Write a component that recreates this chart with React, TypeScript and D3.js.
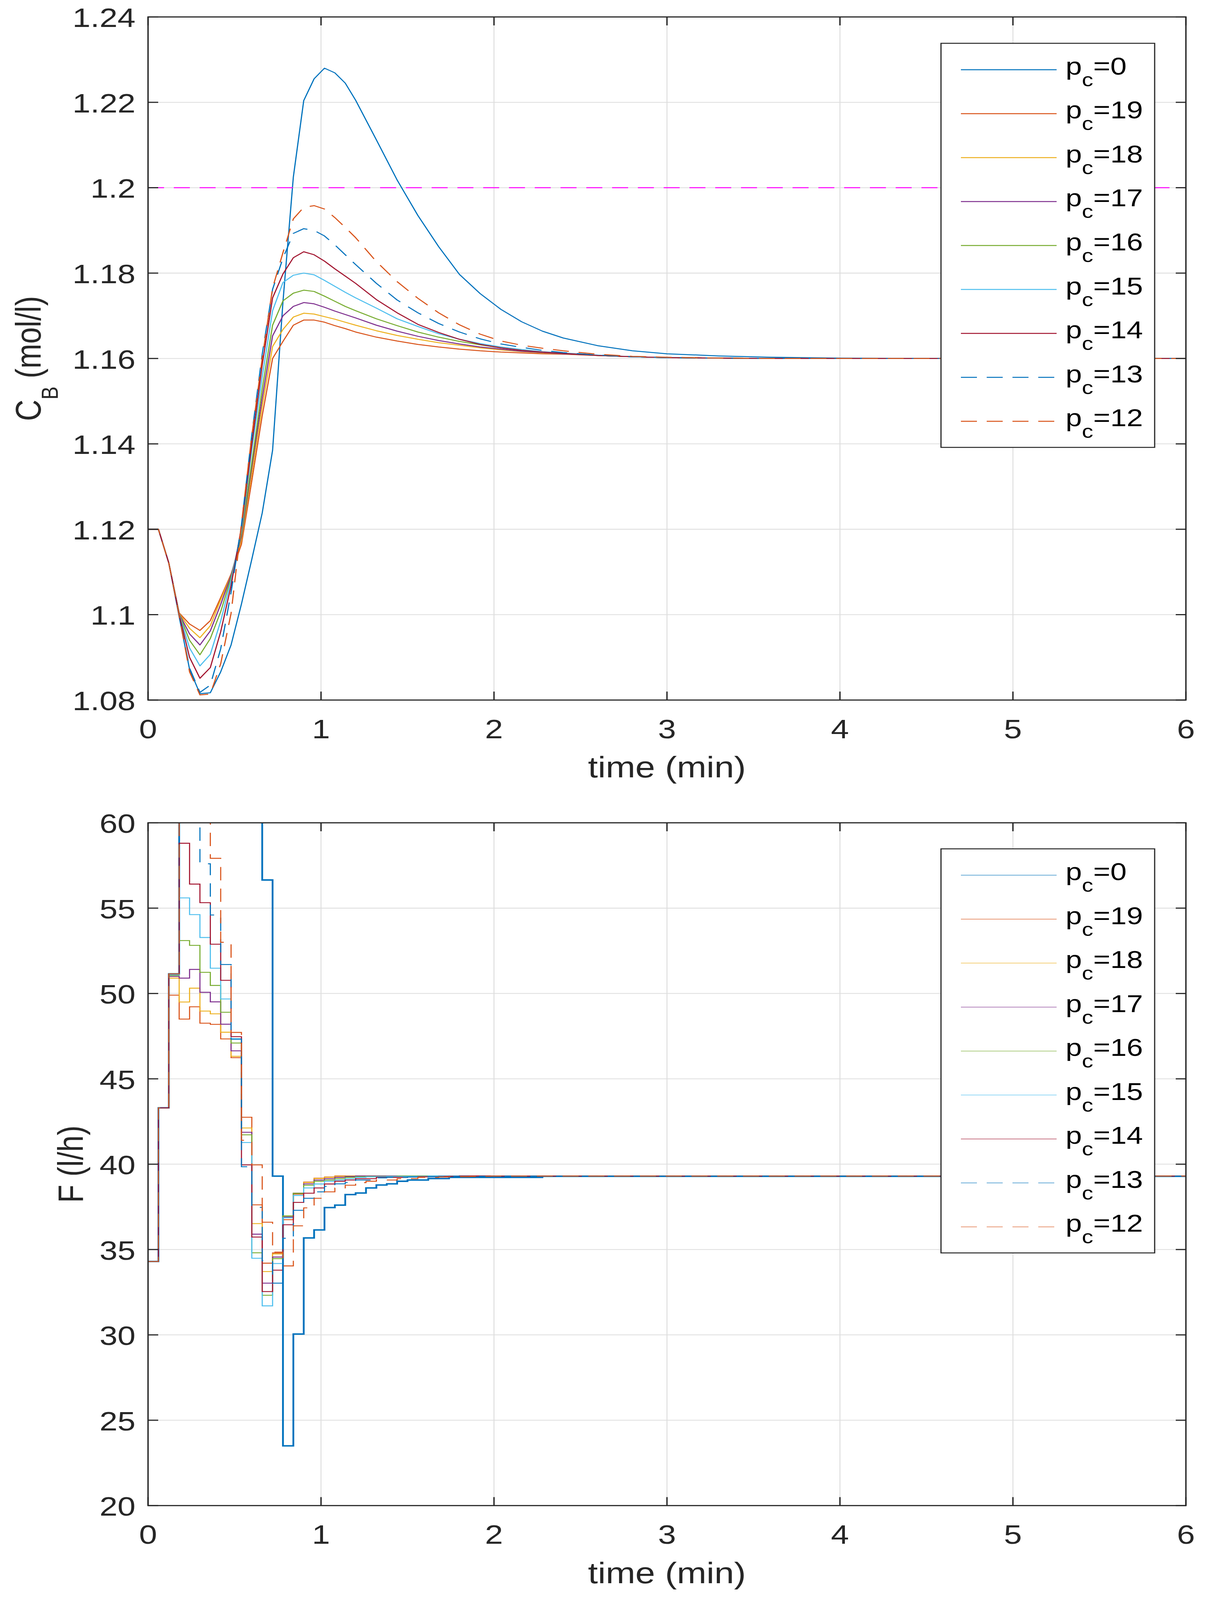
import React from 'react';
import * as d3 from 'd3';

if (typeof document !== 'undefined') {
  document.body.style.margin = '0';
  document.body.style.padding = '0';
  document.body.style.overflow = 'hidden';
}

const W = 3090;
const H = 4914;
const FONT = '"Liberation Sans", Arial, Helvetica, sans-serif';
const INK = '#262626';
const GRID = '#dedede';

// ---------- series meta ----------
const pcLabels = ['0', '19', '18', '17', '16', '15', '14', '13', '12'];
const pcColors = ['#0072BD', '#D95319', '#EDB120', '#7E2F8E', '#77AC30', '#4DBEEE', '#A2142F', '#0072BD', '#D95319'];
const pcDashed = [false, false, false, false, false, false, false, true, true];

// ---------- top plot: C_B (mol/l) ----------
const timeCB = [0, 0.06, 0.12, 0.18, 0.24, 0.3, 0.36, 0.42, 0.48, 0.54, 0.6, 0.66, 0.72, 0.78, 0.84, 0.9, 0.96, 1.02, 1.08, 1.14, 1.2,
  1.32, 1.44, 1.56, 1.68, 1.8, 1.92, 2.04, 2.16, 2.28, 2.4, 2.6, 2.8, 3.0, 3.3, 3.6, 4.0, 4.5, 6.0];

const cb0 = [1.12, 1.12, 1.1121, 1.0995, 1.0872, 1.0815, 1.0817, 1.0866, 1.0929, 1.1025, 1.113, 1.1238, 1.1385, 1.1733, 1.2025, 1.2204, 1.2255, 1.228, 1.2269, 1.2245, 1.2205,
  1.2112, 1.2018, 1.1935, 1.1862, 1.1797, 1.1752, 1.1715, 1.1686, 1.1664, 1.1648, 1.163, 1.1618, 1.1611, 1.1606, 1.1603, 1.1601, 1.16, 1.16];
const cb19 = [1.12, 1.12, 1.1121, 1.1004, 1.0978, 1.0963, 1.0986, 1.104, 1.1095, 1.1165, 1.1314, 1.1466, 1.16, 1.164, 1.1678, 1.169, 1.169, 1.1685, 1.1677, 1.167, 1.1662,
  1.165, 1.1641, 1.1633, 1.1627, 1.1622, 1.1618, 1.1615, 1.1613, 1.1611, 1.161, 1.1607, 1.1604, 1.1602, 1.1601, 1.16, 1.16, 1.16, 1.16];
const cb18 = [1.12, 1.12, 1.1121, 1.1003, 1.0968, 1.0946, 1.0974, 1.1035, 1.1093, 1.1175, 1.1332, 1.1488, 1.1628, 1.1668, 1.1697, 1.1706, 1.1704, 1.1698, 1.1692, 1.1685, 1.1678,
  1.1665, 1.1654, 1.1645, 1.1637, 1.1631, 1.1625, 1.162, 1.1616, 1.1613, 1.1611, 1.1607, 1.1604, 1.1602, 1.1601, 1.16, 1.16, 1.16, 1.16];
const cb17 = [1.12, 1.12, 1.1121, 1.1002, 1.0955, 1.0929, 1.0962, 1.1024, 1.1092, 1.1183, 1.1347, 1.1507, 1.1653, 1.17, 1.1722, 1.1731, 1.1728, 1.172, 1.1711, 1.1703, 1.1695,
  1.1678, 1.1664, 1.1652, 1.1642, 1.1634, 1.1627, 1.1622, 1.1617, 1.1614, 1.1611, 1.1607, 1.1604, 1.1602, 1.1601, 1.16, 1.16, 1.16, 1.16];
const cb16 = [1.12, 1.12, 1.1121, 1.1002, 1.094, 1.0906, 1.0944, 1.1007, 1.1087, 1.119, 1.1357, 1.1529, 1.1678, 1.1735, 1.1753, 1.176, 1.1757, 1.1746, 1.1734, 1.1722, 1.1712,
  1.1693, 1.1677, 1.1662, 1.165, 1.164, 1.1632, 1.1625, 1.1619, 1.1615, 1.1612, 1.1607, 1.1604, 1.1602, 1.1601, 1.16, 1.16, 1.16, 1.16];
const cb15 = [1.12, 1.12, 1.1121, 1.1001, 1.0922, 1.088, 1.0907, 1.0985, 1.108, 1.1198, 1.1386, 1.1557, 1.1712, 1.1778, 1.1795, 1.18, 1.1796, 1.1783, 1.1769, 1.1755, 1.1742,
  1.1718, 1.1693, 1.1675, 1.1658, 1.1645, 1.1635, 1.1627, 1.1621, 1.1616, 1.1613, 1.1608, 1.1604, 1.1602, 1.1601, 1.16, 1.16, 1.16, 1.16];
const cb14 = [1.12, 1.12, 1.1121, 1.1, 1.09, 1.0851, 1.0876, 1.096, 1.1068, 1.1205, 1.14, 1.1585, 1.1742, 1.1798, 1.1836, 1.185, 1.1843, 1.1828, 1.181, 1.1793, 1.1776,
  1.1738, 1.1707, 1.168, 1.1661, 1.1645, 1.1633, 1.1625, 1.1619, 1.1615, 1.1612, 1.1607, 1.1604, 1.1602, 1.1601, 1.16, 1.16, 1.16, 1.16];
const cb13 = [1.12, 1.12, 1.1121, 1.0998, 1.0875, 1.0818, 1.0835, 1.092, 1.1052, 1.121, 1.1422, 1.161, 1.1762, 1.1835, 1.1893, 1.1904, 1.19, 1.1887, 1.1866, 1.1843, 1.182,
  1.1776, 1.1737, 1.1707, 1.1682, 1.1662, 1.1646, 1.1634, 1.1626, 1.1619, 1.1614, 1.1608, 1.1604, 1.1602, 1.1601, 1.16, 1.16, 1.16, 1.16];
const cb12 = [1.12, 1.12, 1.1121, 1.0998, 1.0866, 1.0812, 1.0814, 1.0885, 1.1003, 1.1212, 1.142, 1.16, 1.1765, 1.1848, 1.1927, 1.1954, 1.1958, 1.195, 1.193, 1.1907, 1.1883,
  1.1827, 1.178, 1.1741, 1.1707, 1.1679, 1.1657, 1.1641, 1.1631, 1.1624, 1.1618, 1.161, 1.1605, 1.1603, 1.1601, 1.16, 1.16, 1.16, 1.16];
const cbSeries = [cb0, cb19, cb18, cb17, cb16, cb15, cb14, cb13, cb12];
const cbLimit = 1.2;

// ---------- bottom plot: F (l/h), stairs ----------
const timeF = [0, 0.06, 0.12, 0.18, 0.24, 0.3, 0.36, 0.42, 0.48, 0.54, 0.6, 0.66, 0.72, 0.78, 0.84, 0.9, 0.96, 1.02, 1.08, 1.14, 1.2,
  1.26, 1.32, 1.38, 1.44, 1.5, 1.56, 1.62, 1.68, 1.74, 1.8, 1.86, 1.92, 1.98, 2.04, 2.1, 2.16, 2.22, 2.28, 2.34, 2.4, 6.0];

const f0 = [34.3, 43.3, 51.15, 72, 85, 92, 88, 80, 73, 67, 62, 56.65, 39.3, 23.5, 30.05, 35.68, 36.15, 37.46, 37.6, 38.22, 38.31,
  38.61, 38.78, 38.85, 39.0, 39.07, 39.07, 39.16, 39.16, 39.23, 39.23, 39.23, 39.23, 39.23, 39.23, 39.23, 39.23, 39.23, 39.29, 39.29, 39.29, 39.29];
const f19 = [34.3, 43.3, 49.9, 48.5, 49.22, 48.26, 48.19, 47.34, 46.24, 42.75, 37.62, 34.2, 34.8, 36.75, 38.25, 38.95, 39.18, 39.25, 39.31, 39.3, 39.3,
  39.3, 39.3, 39.3, 39.3, 39.3, 39.3, 39.3, 39.3, 39.3, 39.3, 39.3, 39.3, 39.3, 39.3, 39.3, 39.3, 39.3, 39.3, 39.3, 39.3, 39.3];
const f18 = [34.3, 43.3, 50.9, 49.5, 50.31, 48.97, 48.81, 47.73, 46.32, 42.12, 36.52, 33.71, 34.74, 36.9, 38.3, 38.93, 39.16, 39.23, 39.29, 39.31, 39.3,
  39.3, 39.3, 39.3, 39.3, 39.3, 39.3, 39.3, 39.3, 39.3, 39.3, 39.3, 39.3, 39.3, 39.3, 39.3, 39.3, 39.3, 39.3, 39.3, 39.3, 39.3];
const f17 = [34.3, 43.3, 51.0, 50.9, 51.41, 50.07, 49.51, 48.2, 46.64, 41.87, 35.9, 33.03, 34.56, 36.9, 38.3, 38.85, 39.07, 39.15, 39.23, 39.28, 39.31,
  39.31, 39.31, 39.31, 39.3, 39.3, 39.3, 39.3, 39.3, 39.3, 39.3, 39.3, 39.3, 39.3, 39.3, 39.3, 39.3, 39.3, 39.3, 39.3, 39.3, 39.3];
const f16 = [34.3, 43.3, 51.05, 53.1, 52.82, 51.24, 50.47, 48.9, 47.1, 41.72, 34.81, 32.32, 34.47, 36.97, 38.29, 38.77, 39.0, 39.07, 39.15, 39.23, 39.27,
  39.28, 39.29, 39.29, 39.31, 39.31, 39.31, 39.3, 39.3, 39.3, 39.3, 39.3, 39.3, 39.3, 39.3, 39.3, 39.3, 39.3, 39.3, 39.3, 39.3, 39.3];
const f15 = [34.3, 43.3, 51.1, 55.6, 54.62, 53.28, 51.48, 49.68, 47.35, 41.27, 34.49, 31.7, 34.18, 36.86, 38.17, 38.61, 38.84, 39.0, 39.07, 39.15, 39.23,
  39.26, 39.27, 39.28, 39.28, 39.29, 39.29, 39.31, 39.31, 39.31, 39.3, 39.3, 39.3, 39.3, 39.3, 39.3, 39.3, 39.3, 39.3, 39.3, 39.3, 39.3];
const f14 = [34.3, 43.3, 51.15, 58.8, 56.41, 55.32, 52.89, 50.77, 47.47, 39.96, 35.73, 32.54, 33.79, 36.45, 37.76, 38.3, 38.61, 38.84, 39.0, 39.07, 39.15,
  39.15, 39.23, 39.23, 39.23, 39.25, 39.26, 39.27, 39.28, 39.29, 39.31, 39.31, 39.31, 39.3, 39.3, 39.3, 39.3, 39.3, 39.3, 39.3, 39.3, 39.3];
const f13 = [34.3, 43.3, 51.15, 64, 62, 57.6, 54.6, 51.7, 47.32, 39.85, 37.47, 34.34, 33.03, 35.66, 37.3, 38.0, 38.38, 38.7, 38.85, 38.93, 39.07,
  39.07, 39.2, 39.23, 39.23, 39.25, 39.26, 39.27, 39.27, 39.28, 39.28, 39.29, 39.29, 39.3, 39.3, 39.3, 39.3, 39.3, 39.3, 39.3, 39.3, 39.3];
const f12 = [34.3, 43.3, 51.15, 66, 68, 63, 57.92, 53.0, 47.72, 41.4, 39.96, 36.6, 34.85, 34.04, 36.39, 37.44, 38.0, 38.38, 38.61, 38.77, 38.92,
  39.0, 39.07, 39.07, 39.15, 39.15, 39.23, 39.23, 39.25, 39.26, 39.27, 39.28, 39.29, 39.3, 39.3, 39.3, 39.3, 39.3, 39.3, 39.3, 39.3, 39.3];
const fSeries = [f0, f19, f18, f17, f16, f15, f14, f13, f12];

// ---------- ticks ----------
const xTicks = [0, 1, 2, 3, 4, 5, 6];
const cbTicks = [1.08, 1.1, 1.12, 1.14, 1.16, 1.18, 1.2, 1.22, 1.24];
const cbTickLabels = ['1.08', '1.1', '1.12', '1.14', '1.16', '1.18', '1.2', '1.22', '1.24'];
const fTicks = [20, 25, 30, 35, 40, 45, 50, 55, 60];
const fTickLabels = ['20', '25', '30', '35', '40', '45', '50', '55', '60'];

// ---------- layout (reference pixel frame 3090 x 4914) ----------
const LEFT = 379;
const RIGHT = 3036;
const TOP_PLOT = { top: 52, bottom: 2150 };
const BOT_PLOT = { top: 2527, bottom: 4624 };
const TICK_FS = 83;
const LABEL_FS = 91;
const LEGEND_FS = 75;
const DASH = '41 25';

const x = d3.scaleLinear().domain([0, 6]).range([LEFT, RIGHT]);
const yCB = d3.scaleLinear().domain([1.08, 1.24]).range([TOP_PLOT.bottom, TOP_PLOT.top]);
const yF = d3.scaleLinear().domain([20, 60]).range([BOT_PLOT.bottom, BOT_PLOT.top]);

type AxesProps = {
  top: number;
  bottom: number;
  y: d3.ScaleLinear<number, number>;
  yTicks: number[];
  yTickLabels: string[];
};

function Grid({ top, bottom, y, yTicks }: AxesProps) {
  return (
    <g>
      {xTicks.map((t) => (
        <line key={'gx' + t} x1={x(t)} x2={x(t)} y1={top} y2={bottom} stroke={GRID} strokeWidth={2.5} />
      ))}
      {yTicks.map((t) => (
        <line key={'gy' + t} x1={LEFT} x2={RIGHT} y1={y(t)} y2={y(t)} stroke={GRID} strokeWidth={2.5} />
      ))}
    </g>
  );
}

function Frame({ top, bottom, y, yTicks, yTickLabels }: AxesProps) {
  const TL = 26;
  return (
    <g fontFamily={FONT} fill={INK}>
      {xTicks.map((t) => (
        <g key={'tx' + t}>
          <line x1={x(t)} x2={x(t)} y1={bottom} y2={bottom - TL} stroke={INK} strokeWidth={3.5} />
          <line x1={x(t)} x2={x(t)} y1={top} y2={top + TL} stroke={INK} strokeWidth={3.5} />
          <text x={x(t)} y={bottom + 117} fontSize={TICK_FS} textAnchor="middle">{String(t)}</text>
        </g>
      ))}
      {yTicks.map((t, i) => (
        <g key={'ty' + t}>
          <line x1={LEFT} x2={LEFT + TL} y1={y(t)} y2={y(t)} stroke={INK} strokeWidth={3.5} />
          <line x1={RIGHT} x2={RIGHT - TL} y1={y(t)} y2={y(t)} stroke={INK} strokeWidth={3.5} />
          <text x={347} y={y(t) + 31} fontSize={TICK_FS} textAnchor="end">{yTickLabels[i]}</text>
        </g>
      ))}
      <rect x={LEFT} y={top} width={RIGHT - LEFT} height={bottom - top} fill="none" stroke={INK} strokeWidth={3.5} />
      <text x={(LEFT + RIGHT) / 2} y={bottom + 238} fontSize={LABEL_FS} textAnchor="middle">time (min)</text>
    </g>
  );
}

function Legend({ top, faded }: { top: number; faded: boolean }) {
  const bx = 2409;
  const bw = 547;
  const bh = 1241;
  return (
    <g fontFamily={FONT}>
      <rect x={bx} y={top} width={bw} height={bh} fill="#ffffff" stroke={INK} strokeWidth={3} />
      {pcLabels.map((lab, i) => {
        const ly = top + 81 + i * 135;
        return (
          <g key={'lg' + lab}>
            <line
              x1={2460}
              x2={2705}
              y1={ly}
              y2={ly}
              stroke={pcColors[i]}
              strokeWidth={faded ? 2.4 : 3}
              strokeOpacity={faded ? 0.6 : 1}
              strokeDasharray={pcDashed[i] ? DASH : undefined}
            />
            <text x={2728} y={ly + 15} fontSize={LEGEND_FS} fill="#000000">
              p
              <tspan fontSize={58} dy={36}>c</tspan>
              <tspan fontSize={LEGEND_FS} dy={-36}>{'=' + lab}</tspan>
            </text>
          </g>
        );
      })}
    </g>
  );
}

export default function App() {
  // The browser window may be shorter than the reference frame; fit the whole
  // 3090 x 4914 frame into what is actually visible.
  const vw = typeof window !== 'undefined' && window.innerWidth ? window.innerWidth : W;
  const vh = typeof window !== 'undefined' && window.innerHeight ? window.innerHeight : H;
  const outW = Math.min(W, vw);
  const outH = Math.min(H, vh);

  const lineCB = d3
    .line<number>()
    .x((_, i) => x(timeCB[i]))
    .y((d) => yCB(d));
  const lineF = d3
    .line<number>()
    .x((_, i) => x(timeF[i]))
    .y((d) => yF(d))
    .curve(d3.curveStepAfter);

  const topProps: AxesProps = { top: TOP_PLOT.top, bottom: TOP_PLOT.bottom, y: yCB, yTicks: cbTicks, yTickLabels: cbTickLabels };
  const botProps: AxesProps = { top: BOT_PLOT.top, bottom: BOT_PLOT.bottom, y: yF, yTicks: fTicks, yTickLabels: fTickLabels };

  return (
    <svg
      width={outW}
      height={outH}
      viewBox={`0 0 ${W} ${H}`}
      preserveAspectRatio="none"
      style={{ display: 'block', background: '#ffffff' }}
    >
      <defs>
        <clipPath id="clipTop">
          <rect x={LEFT} y={TOP_PLOT.top} width={RIGHT - LEFT} height={TOP_PLOT.bottom - TOP_PLOT.top} />
        </clipPath>
        <clipPath id="clipBot">
          <rect x={LEFT} y={BOT_PLOT.top} width={RIGHT - LEFT} height={BOT_PLOT.bottom - BOT_PLOT.top} />
        </clipPath>
      </defs>
      <rect x={0} y={0} width={W} height={H} fill="#ffffff" />

      {/* ---------- top axes ---------- */}
      <Grid {...topProps} />
      <g clipPath="url(#clipTop)">
        {cbSeries.map((s, i) => (
          <path
            key={'cb' + i}
            d={lineCB(s) || ''}
            fill="none"
            stroke={pcColors[i]}
            strokeWidth={3}
            strokeLinejoin="round"
            strokeDasharray={pcDashed[i] ? DASH : undefined}
          />
        ))}
        <line
          x1={x(0)}
          x2={x(6)}
          y1={yCB(cbLimit)}
          y2={yCB(cbLimit)}
          stroke="#FF00FF"
          strokeWidth={3}
          strokeDasharray={DASH}
        />
      </g>
      <Frame {...topProps} />
      <text
        transform={`translate(104, ${(TOP_PLOT.top + TOP_PLOT.bottom) / 2}) rotate(-90)`}
        fontFamily={FONT}
        fontSize={LABEL_FS}
        fill={INK}
        textAnchor="middle"
      >
        C
        <tspan fontSize={60} dy={44}>B</tspan>
        <tspan fontSize={LABEL_FS} dy={-44}>{' (mol/l)'}</tspan>
      </text>
      <Legend top={133} faded={false} />

      {/* ---------- bottom axes ---------- */}
      <Grid {...botProps} />
      <g clipPath="url(#clipBot)">
        {fSeries.map((s, i) => (
          <path
            key={'f' + i}
            d={lineF(s) || ''}
            fill="none"
            stroke={pcColors[i]}
            strokeWidth={i === 0 ? 4.6 : 2.8}
            strokeDasharray={pcDashed[i] ? DASH : undefined}
          />
        ))}
      </g>
      <Frame {...botProps} />
      <text
        transform={`translate(212, ${(BOT_PLOT.top + BOT_PLOT.bottom) / 2}) rotate(-90)`}
        fontFamily={FONT}
        fontSize={LABEL_FS}
        fill={INK}
        textAnchor="middle"
      >
        F (l/h)
      </text>
      <Legend top={2607} faded={true} />
    </svg>
  );
}
